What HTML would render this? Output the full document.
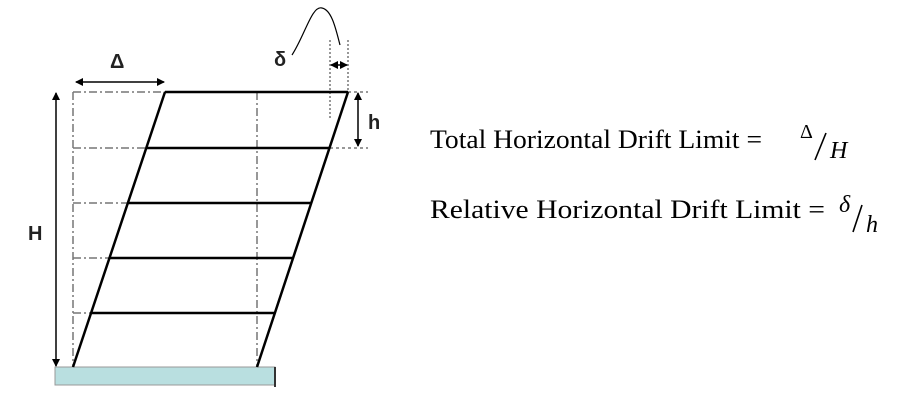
<!DOCTYPE html>
<html><head><style>html,body{margin:0;padding:0;background:#fff;}svg{display:block}</style></head>
<body>
<svg width="908" height="404" viewBox="0 0 908 404" xmlns="http://www.w3.org/2000/svg">
<rect x="55" y="367" width="220" height="18" fill="#b9dfe0" stroke="#999" stroke-width="1"/>
<line x1="275" y1="367" x2="275" y2="387" stroke="#333" stroke-width="2"/>
<g stroke="#777" stroke-width="1.5" fill="none">
<line x1="73" y1="92" x2="73" y2="367" stroke-dasharray="8,3,2,3"/>
<line x1="257" y1="92" x2="257" y2="367" stroke-dasharray="8,3,2,3"/>
<line x1="73" y1="92" x2="165" y2="92" stroke-dasharray="8,3,2,3"/>
<line x1="73" y1="148" x2="146" y2="148" stroke-dasharray="8,3,2,3"/>
<line x1="73" y1="203" x2="128" y2="203" stroke-dasharray="8,3,2,3"/>
<line x1="73" y1="258" x2="110" y2="258" stroke-dasharray="8,3,2,3"/>
<line x1="73" y1="313" x2="91" y2="313" stroke-dasharray="8,3,2,3"/>
<line x1="348" y1="92" x2="368" y2="92" stroke-dasharray="3,3"/>
<line x1="330" y1="148" x2="368" y2="148" stroke-dasharray="3,3"/>
<line x1="330" y1="40" x2="330" y2="120" stroke-dasharray="2,2"/>
<line x1="348" y1="40" x2="348" y2="92" stroke-dasharray="2,2"/>
</g>
<g stroke="#000" stroke-width="2.5" fill="none">
<line x1="165" y1="92" x2="348" y2="92"/>
<line x1="165" y1="92" x2="73" y2="367"/>
<line x1="348" y1="92" x2="257" y2="367"/>
<line x1="146" y1="148" x2="329" y2="148"/>
<line x1="128" y1="203" x2="311" y2="203"/>
<line x1="110" y1="258" x2="293" y2="258"/>
<line x1="92" y1="313" x2="275" y2="313"/>
</g>
<defs><marker id="a" markerWidth="8" markerHeight="8" refX="7" refY="4" orient="auto-start-reverse" markerUnits="userSpaceOnUse"><path d="M0,0 L8,4 L0,8 z" fill="#000"/></marker></defs>
<g stroke="#000" stroke-width="1.5">
<line x1="56" y1="93" x2="56" y2="366" marker-start="url(#a)" marker-end="url(#a)"/>
<line x1="76" y1="82" x2="164" y2="82" marker-start="url(#a)" marker-end="url(#a)"/>
<line x1="358" y1="93" x2="358" y2="146" marker-start="url(#a)" marker-end="url(#a)"/>
<line x1="331" y1="65" x2="347" y2="65" marker-start="url(#a)" marker-end="url(#a)"/>
</g>
<path d="M292,55 C305,35 312,5 322,8 C332,10 336,30 340,45" stroke="#000" stroke-width="1.2" fill="none"/>
<g font-family="Liberation Sans, sans-serif" font-weight="bold" font-size="20" fill="#222">
<text x="28" y="240">H</text>
<text x="110" y="68">Δ</text>
<text x="368" y="129">h</text>
<text x="274" y="66">δ</text>
</g>
<g font-family="Liberation Serif, serif" font-size="26" fill="#000">
<text x="430" y="148" textLength="332" lengthAdjust="spacingAndGlyphs">Total Horizontal Drift Limit =</text>
<text x="430" y="218" textLength="395" lengthAdjust="spacingAndGlyphs">Relative Horizontal Drift Limit =</text>
<text x="800" y="138" font-size="20">Δ</text>
<text x="830" y="158" font-style="italic" font-size="24">H</text>
<text x="839" y="212" font-style="italic" font-size="24">δ</text>
<text x="866" y="232" font-style="italic" font-size="24">h</text>
</g>
<g stroke="#000" stroke-width="1.6">
<line x1="815" y1="160" x2="826" y2="133"/>
<line x1="853" y1="232" x2="862" y2="205"/>
</g>
</svg>
</body></html>
